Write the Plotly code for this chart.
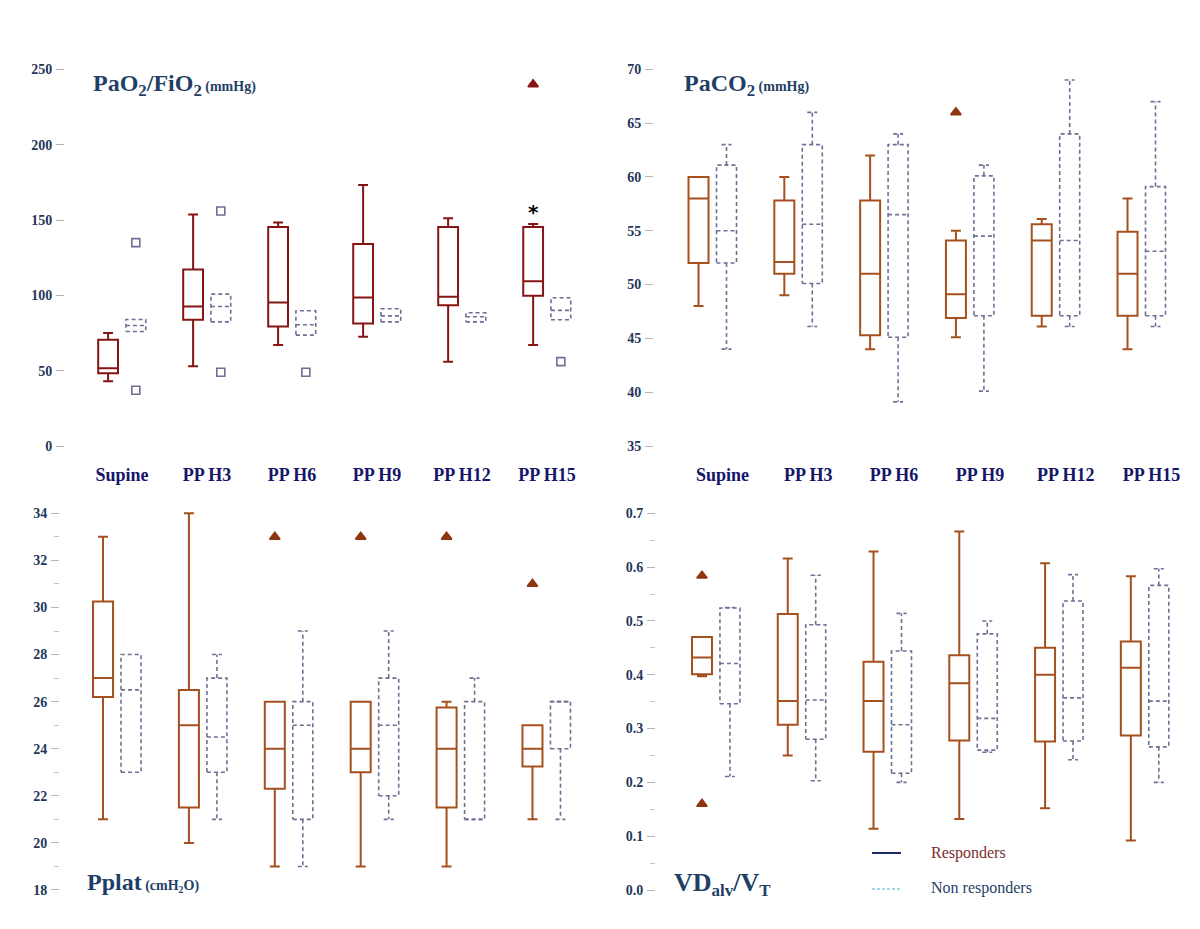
import plotly.graph_objects as go

# ---------------- data ----------------
categories = ["Supine", "PP H3", "PP H6", "PP H9", "PP H12", "PP H15"]

# PaO2/FiO2 (mmHg)
pao2_resp_min = [43, 53, 67, 72.5, 56, 67]
pao2_resp_q1 = [48.3, 83.8, 79.3, 81.3, 93.5, 99.7]
pao2_resp_med = [51.6, 92.6, 95.3, 98.6, 99.1, 109.3]
pao2_resp_q3 = [70.5, 117.2, 145.4, 134.1, 145.4, 145.4]
pao2_resp_max = [75, 153.6, 148.3, 173.3, 151.2, 147.4]
pao2_non_min = [76, 82.4, 73.6, 82.4, 82.4, 83.8]
pao2_non_q1 = [76, 82.4, 73.6, 82.4, 82.4, 83.8]
pao2_non_med = [80, 92.6, 80.5, 86.4, 85.8, 90]
pao2_non_q3 = [84, 100.8, 89.8, 91.1, 88.4, 98.4]
pao2_non_max = [84, 100.8, 89.8, 91.1, 88.4, 98.4]
pao2_resp_out_cat = ["PP H15"]
pao2_resp_out_val = [240]
pao2_non_out_cat = ["Supine", "Supine", "PP H3", "PP H3", "PP H6", "PP H15"]
pao2_non_out_val = [135, 37, 156, 49, 49, 56]
pao2_star_cat = "PP H15"
pao2_star_val = 158.5

# PaCO2 (mmHg)
paco2_resp_min = [48, 49, 44, 45.1, 46.1, 44]
paco2_resp_q1 = [52, 51, 45.3, 46.9, 47.1, 47.1]
paco2_resp_med = [58, 52.1, 51, 49.1, 54.1, 51]
paco2_resp_q3 = [60, 57.8, 57.8, 54.1, 55.6, 54.9]
paco2_resp_max = [60, 60, 62, 55, 56.1, 58]
paco2_non_min = [44, 46.1, 39.1, 40.1, 46.1, 46.1]
paco2_non_q1 = [52, 50.1, 45.1, 47.1, 47.1, 47.1]
paco2_non_med = [55, 55.6, 56.5, 54.5, 54.1, 53.1]
paco2_non_q3 = [61.1, 63, 63, 60.1, 64, 59.1]
paco2_non_max = [63, 66, 64, 61.1, 69, 67]
paco2_resp_out_cat = ["PP H9"]
paco2_resp_out_val = [66]

# Pplat (cmH2O)
pplat_resp_min = [21, 20, 19, 19, 19, 21]
pplat_resp_q1 = [26.2, 21.5, 22.3, 23, 21.5, 23.25]
pplat_resp_med = [27, 25, 24, 24, 24, 24]
pplat_resp_q3 = [30.25, 26.5, 26, 26, 25.75, 25]
pplat_resp_max = [33, 34, 26, 26, 26, 25]
pplat_non_min = [23, 21, 19, 21, 21, 21]
pplat_non_q1 = [23, 23, 21, 22, 21, 24]
pplat_non_med = [26.5, 24.5, 25, 25, 21, 26]
pplat_non_q3 = [28, 27, 26, 27, 26, 26]
pplat_non_max = [28, 28, 29, 29, 27, 26]
pplat_resp_out_cat = ["PP H6", "PP H9", "PP H12", "PP H15"]
pplat_resp_out_val = [33, 33, 33, 31]

# VDalv/VT
vd_resp_min = [0.397, 0.25, 0.114, 0.132, 0.152, 0.092]
vd_resp_q1 = [0.401, 0.307, 0.257, 0.278, 0.276, 0.287]
vd_resp_med = [0.432, 0.351, 0.351, 0.384, 0.400, 0.413]
vd_resp_q3 = [0.470, 0.513, 0.424, 0.436, 0.450, 0.462]
vd_resp_max = [0.470, 0.616, 0.629, 0.666, 0.607, 0.583]
vd_non_min = [0.211, 0.203, 0.200, 0.256, 0.242, 0.200]
vd_non_q1 = [0.346, 0.280, 0.217, 0.260, 0.277, 0.266]
vd_non_med = [0.421, 0.353, 0.307, 0.319, 0.357, 0.351]
vd_non_q3 = [0.524, 0.493, 0.444, 0.476, 0.537, 0.566]
vd_non_max = [0.525, 0.585, 0.514, 0.500, 0.586, 0.597]
vd_resp_out_cat = ["Supine", "Supine"]
vd_resp_out_val = [0.584, 0.16]

# ---------------- styles ----------------
PAGE_OFF = 8                 # default body margin of the html page
W, H = 1200 - PAGE_OFF, 929 - PAGE_OFF
OFF = 0.163                  # offset of each group's box from category centre
BW = 0.233                   # box width (category units)
NAVY = "#15156a"
TITLE = "#1f3f66"
TICKC = "#24365a"
NRC = "#6f6f95"
SERIF = "Liberation Serif"
RED = "#861414"
BROWN = "#a5501f"
TRI = "#8e3612"

idx = {c: i for i, c in enumerate(categories)}
fig = go.Figure()


def px(x):
    return (x - PAGE_OFF) / W


def py(y):
    return 1 - (y - PAGE_OFF) / H


def resp_box(q1, med, q3, lo, hi, color, ax):
    fig.add_trace(go.Box(
        x=[i - OFF for i in range(len(categories))],
        q1=q1, median=med, q3=q3, lowerfence=lo, upperfence=hi,
        width=BW, whiskerwidth=0.5, boxpoints=False,
        line=dict(color=color, width=2), fillcolor="rgba(0,0,0,0)",
        xaxis="x" + ax, yaxis="y" + ax, showlegend=False, hoverinfo="skip"))


def non_box(q1, med, q3, lo, hi, ax):
    xs, ys = [], []
    h, c = BW / 2, BW / 4
    for i in range(len(categories)):
        xc = i + OFF
        xs += [xc - h, xc + h, xc + h, xc - h, xc - h, None, xc - h, xc + h, None]
        ys += [q1[i], q1[i], q3[i], q3[i], q1[i], None, med[i], med[i], None]
        if hi[i] > q3[i]:
            xs += [xc, xc, None, xc - c, xc + c, None]
            ys += [q3[i], hi[i], None, hi[i], hi[i], None]
        if lo[i] < q1[i]:
            xs += [xc, xc, None, xc - c, xc + c, None]
            ys += [q1[i], lo[i], None, lo[i], lo[i], None]
    fig.add_trace(go.Scatter(
        x=xs, y=ys, mode="lines",
        line=dict(color=NRC, width=1.6, dash="4px,3px"),
        xaxis="x" + ax, yaxis="y" + ax, showlegend=False, hoverinfo="skip"))


def outliers(cats, vals, side, symbol, color, ax, size=9):
    fig.add_trace(go.Scatter(
        x=[idx[c] + side * OFF for c in cats], y=vals, mode="markers",
        marker=dict(symbol=symbol, size=size, color=color,
                    line=dict(color=color, width=1.6)),
        xaxis="x" + ax, yaxis="y" + ax, showlegend=False, hoverinfo="skip"))


# Panel 1: PaO2/FiO2
resp_box(pao2_resp_q1, pao2_resp_med, pao2_resp_q3, pao2_resp_min, pao2_resp_max, RED, "")
non_box(pao2_non_q1, pao2_non_med, pao2_non_q3, pao2_non_min, pao2_non_max, "")
outliers(pao2_resp_out_cat, pao2_resp_out_val, -1, "triangle-up", RED, "")
outliers(pao2_non_out_cat, pao2_non_out_val, 1, "square-open", NRC, "", size=8)

# Panel 2: PaCO2
resp_box(paco2_resp_q1, paco2_resp_med, paco2_resp_q3, paco2_resp_min, paco2_resp_max, BROWN, "2")
non_box(paco2_non_q1, paco2_non_med, paco2_non_q3, paco2_non_min, paco2_non_max, "2")
outliers(paco2_resp_out_cat, paco2_resp_out_val, -1, "triangle-up", TRI, "2")

# Panel 3: Pplat
resp_box(pplat_resp_q1, pplat_resp_med, pplat_resp_q3, pplat_resp_min, pplat_resp_max, BROWN, "3")
non_box(pplat_non_q1, pplat_non_med, pplat_non_q3, pplat_non_min, pplat_non_max, "3")
outliers(pplat_resp_out_cat, pplat_resp_out_val, -1, "triangle-up", TRI, "3")

# Panel 4: VDalv/VT
resp_box(vd_resp_q1, vd_resp_med, vd_resp_q3, vd_resp_min, vd_resp_max, BROWN, "4")
non_box(vd_non_q1, vd_non_med, vd_non_q3, vd_non_min, vd_non_max, "4")
outliers(vd_resp_out_cat, vd_resp_out_val, -1, "triangle-up", TRI, "4")

# ---------------- axes ----------------
tick_font = dict(family=SERIF, size=14, color=TICKC, weight="bold")
cat_font = dict(family=SERIF, size=18, color=NAVY, weight="bold")


def xax(x0, x1, rng, anchor, labels, shift=0):
    d = dict(domain=[px(x0), px(x1)], range=rng, anchor=anchor, showgrid=False,
             zeroline=False, showline=False, ticks="")
    if labels:
        d.update(tickmode="array", tickvals=list(range(len(categories))),
                 ticktext=categories, tickfont=cat_font, ticklabelstandoff=7)
        if shift:
            d["ticklabelshift"] = shift
    else:
        d.update(showticklabels=False, tickmode="array", tickvals=[])
    return d


def yax(top, bottom, rng, anchor, tick0, dtick, minor=None, fmt=None):
    d = dict(domain=[py(bottom), py(top)], range=rng, anchor=anchor, showgrid=False,
             zeroline=False, showline=False, tick0=tick0, dtick=dtick, ticks="outside",
             ticklen=8, tickcolor="#b4b4b4", tickwidth=1, tickfont=tick_font,
             ticklabelstandoff=1)
    if minor:
        d["minor"] = dict(ticks="outside", ticklen=5, tickcolor="#c4c4c4", dtick=minor,
                          showgrid=False)
    if fmt:
        d["tickformat"] = fmt
    return d


fig.update_layout(
    width=W, height=H, margin=dict(l=0, r=0, t=0, b=0), autosize=False,
    paper_bgcolor="white", plot_bgcolor="white", showlegend=False,
    boxmode="overlay",
    xaxis=xax(65, 598, [-0.67, 5.6], "y", True),
    yaxis=yax(60, 455, [-5.97, 256.2], "x", 0, 50),
    xaxis2=xax(654, 1188.7, [-0.682, 5.55], "y2", True, shift=10),
    yaxis2=yax(60, 455, [34.164, 70.864], "x2", 35, 5),
    xaxis3=xax(60, 598, [-0.664, 5.6], "y3", False),
    yaxis3=yax(500, 900, [17.575, 34.565], "x3", 18, 2, minor=1),
    xaxis4=xax(656, 1192, [-0.699, 5.55], "y4", False),
    yaxis4=yax(500, 900, [-0.01858, 0.72472], "x4", 0, 0.1, minor=0.05, fmt=".1f"),
)


# ---------------- titles ----------------
def title(text, x, y, size=24):
    fig.add_annotation(text=text, xref="paper", yref="paper", x=px(x), y=py(y),
                       xanchor="left", yanchor="middle", showarrow=False,
                       font=dict(family=SERIF, size=size, color=TITLE, weight="bold"))


small = "<span style='font-size:14px'>"
title("PaO<sub>2</sub>/FiO<sub>2</sub>" + small + " (mmHg)</span>", 91, 85)
title("PaCO<sub>2</sub>" + small + " (mmHg)</span>", 682, 85)
title("Pplat" + small + " (cmH<sub>2</sub>O)</span>", 85, 882)
title("VD<sub><span style='font-size:17px'>alv</span></sub>/V<sub><span style='font-size:17px'>T</span></sub>",
      672, 884, size=26)

# significance asterisk
fig.add_annotation(text="*", x=idx[pao2_star_cat] - OFF, y=pao2_star_val, xref="x", yref="y",
                   showarrow=False, yshift=-5,
                   font=dict(family="DejaVu Sans", size=20, color="black", weight="bold"))

# ---------------- legend ----------------
fig.add_shape(type="line", xref="paper", yref="paper", x0=px(872), x1=px(901),
              y0=py(853), y1=py(853), line=dict(color="#1c2a6b", width=2))
fig.add_shape(type="line", xref="paper", yref="paper", x0=px(872), x1=px(901),
              y0=py(889), y1=py(889), line=dict(color="#8ccbe0", width=1.5, dash="3px,2px"))
fig.add_annotation(text="Responders", xref="paper", yref="paper", x=px(929), y=py(853),
                   xanchor="left", yanchor="middle", showarrow=False,
                   font=dict(family=SERIF, size=16, color="#7a2e2e"))
fig.add_annotation(text="Non responders", xref="paper", yref="paper", x=px(929), y=py(888),
                   xanchor="left", yanchor="middle", showarrow=False,
                   font=dict(family=SERIF, size=16, color=TITLE))

fig.write_html("out.html")
